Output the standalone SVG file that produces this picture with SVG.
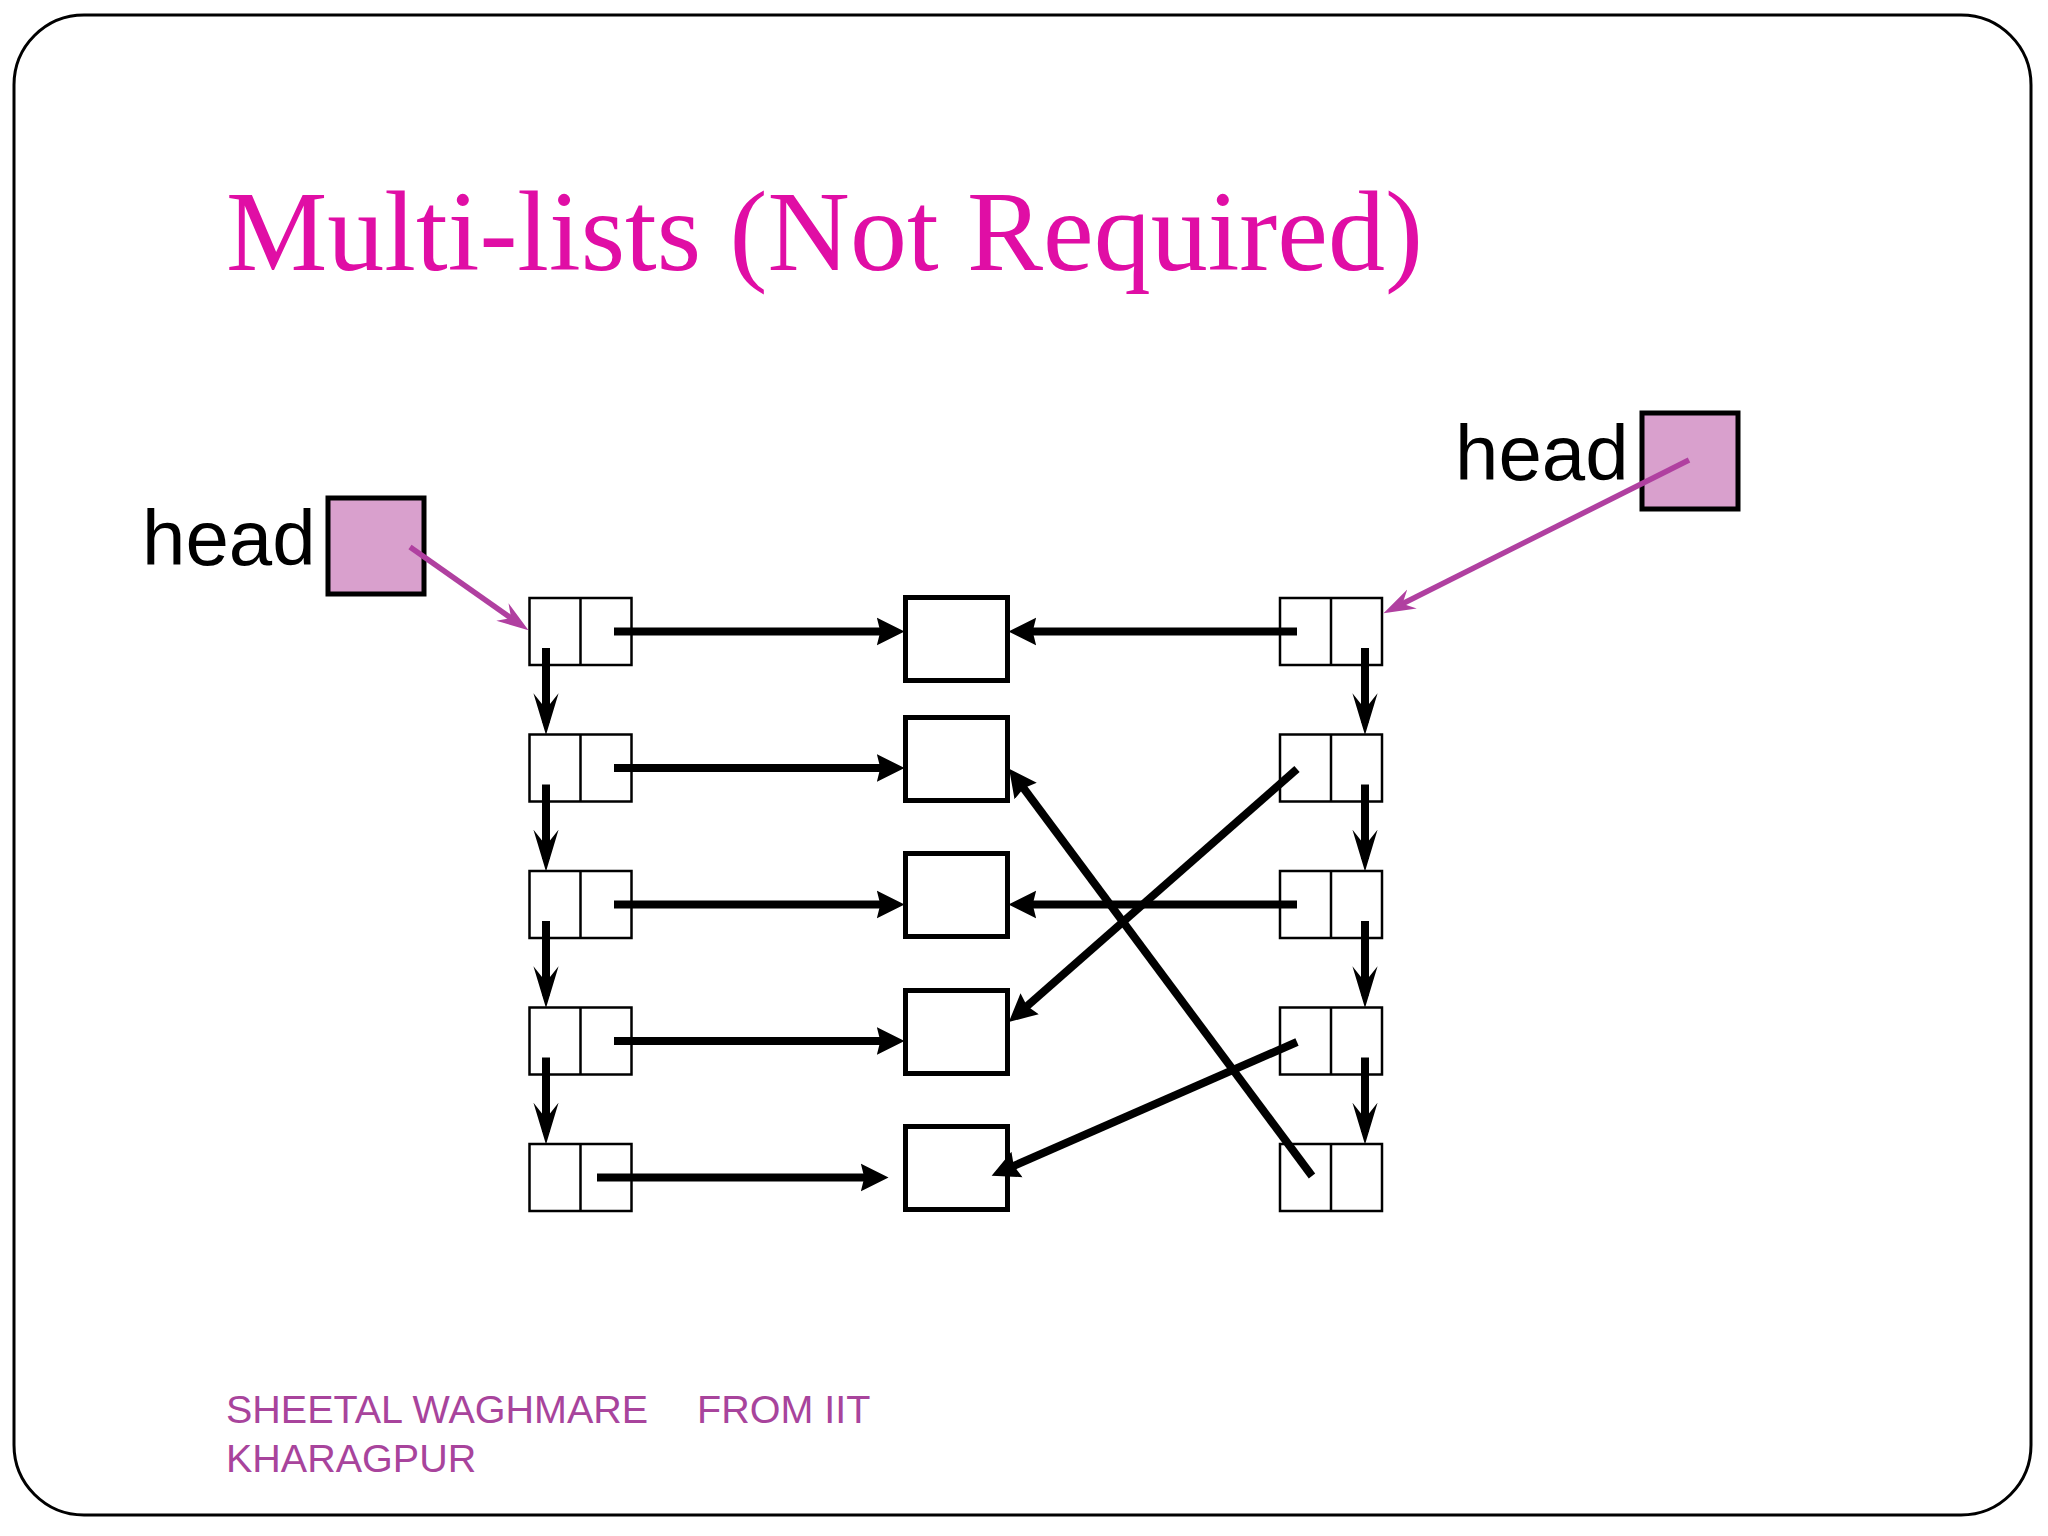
<svg xmlns="http://www.w3.org/2000/svg" width="2048" height="1536" viewBox="0 0 2048 1536">
<style>
.cell{fill:#fff;stroke:#000;stroke-width:2.5}
.item{fill:#fff;stroke:#000;stroke-width:5}
.headbox{fill:#D9A0CD;stroke:#000;stroke-width:5}
.lnk{stroke:#000;stroke-width:8;fill:none}
.hl{stroke:#B040A0;stroke-width:5.5;fill:none}
.lbl{font-family:"Liberation Sans",Arial,sans-serif;font-size:78px;fill:#000}
.foot{font-family:"Liberation Sans",Arial,sans-serif;font-size:39.5px;fill:#A8449C}
</style>
<defs>
<marker id="ah" markerUnits="userSpaceOnUse" markerWidth="30" markerHeight="30" viewBox="0 -13 26 26" refX="14" refY="0" orient="auto"><path d="M0,-12 L24,0 L0,12 L3,0 Z" fill="#000"/></marker>
<marker id="av" markerUnits="userSpaceOnUse" markerWidth="44" markerHeight="30" viewBox="0 -13 42 26" refX="28" refY="0" orient="auto"><path d="M0,-12 L40,0 L0,12 L15,0 Z" fill="#000"/></marker>
<marker id="ap" markerUnits="userSpaceOnUse" markerWidth="34" markerHeight="24" viewBox="0 -11 32 22" refX="20" refY="0" orient="auto"><path d="M0,-10 L30,0 L0,10 L10,0 Z" fill="#B040A0"/></marker>
</defs>
<rect x="0" y="0" width="2048" height="1536" fill="#fff"/>
<rect x="14" y="15" width="2017" height="1500" rx="70" ry="70" fill="#fff" stroke="#000" stroke-width="3"/>
<text x="226" y="270" font-family="'Liberation Serif','Times New Roman',serif" font-size="114" fill="#E00EA5">Multi-lists (Not Required)</text>
<text class="foot" x="226" y="1423">SHEETAL WAGHMARE</text>
<text class="foot" x="697" y="1423">FROM IIT</text>
<text class="foot" x="226" y="1472">KHARAGPUR</text>

<g id="head-left"><text class="lbl" x="142" y="565">head</text><rect class="headbox" x="328" y="498" width="96" height="96"/></g>
<g id="head-right"><text class="lbl" x="1455" y="480">head</text><rect class="headbox" x="1642" y="413" width="96" height="96"/></g>

<g id="L1"><rect class="cell" x="529.5" y="598" width="102" height="67"/><line class="cell" x1="580.5" y1="598" x2="580.5" y2="665"/></g>
<g id="L2"><rect class="cell" x="529.5" y="734.5" width="102" height="67"/><line class="cell" x1="580.5" y1="734.5" x2="580.5" y2="801.5"/></g>
<g id="L3"><rect class="cell" x="529.5" y="871" width="102" height="67"/><line class="cell" x1="580.5" y1="871" x2="580.5" y2="938"/></g>
<g id="L4"><rect class="cell" x="529.5" y="1007.5" width="102" height="67"/><line class="cell" x1="580.5" y1="1007.5" x2="580.5" y2="1074.5"/></g>
<g id="L5"><rect class="cell" x="529.5" y="1144" width="102" height="67"/><line class="cell" x1="580.5" y1="1144" x2="580.5" y2="1211"/></g>

<g id="R1"><rect class="cell" x="1280" y="598" width="102" height="67"/><line class="cell" x1="1331" y1="598" x2="1331" y2="665"/></g>
<g id="R2"><rect class="cell" x="1280" y="734.5" width="102" height="67"/><line class="cell" x1="1331" y1="734.5" x2="1331" y2="801.5"/></g>
<g id="R3"><rect class="cell" x="1280" y="871" width="102" height="67"/><line class="cell" x1="1331" y1="871" x2="1331" y2="938"/></g>
<g id="R4"><rect class="cell" x="1280" y="1007.5" width="102" height="67"/><line class="cell" x1="1331" y1="1007.5" x2="1331" y2="1074.5"/></g>
<g id="R5"><rect class="cell" x="1280" y="1144" width="102" height="67"/><line class="cell" x1="1331" y1="1144" x2="1331" y2="1211"/></g>

<g id="M1"><rect class="item" x="905.5" y="597.5" width="102" height="83"/></g>
<g id="M2"><rect class="item" x="905.5" y="717.5" width="102" height="83"/></g>
<g id="M3"><rect class="item" x="905.5" y="853.5" width="102" height="83"/></g>
<g id="M4"><rect class="item" x="905.5" y="990.5" width="102" height="83"/></g>
<g id="M5"><rect class="item" x="905.5" y="1126.5" width="102" height="83"/></g>

<g id="connectors">
<line class="lnk" x1="614" y1="631.5" x2="893" y2="631.5" marker-end="url(#ah)"/>
<line class="lnk" x1="614" y1="768" x2="893" y2="768" marker-end="url(#ah)"/>
<line class="lnk" x1="614" y1="904.5" x2="893" y2="904.5" marker-end="url(#ah)"/>
<line class="lnk" x1="614" y1="1041" x2="893" y2="1041" marker-end="url(#ah)"/>
<line class="lnk" x1="597" y1="1177.5" x2="877" y2="1177.5" marker-end="url(#ah)"/>

<line class="lnk" x1="546" y1="648" x2="546" y2="722.5" marker-end="url(#av)"/>
<line class="lnk" x1="546" y1="784.5" x2="546" y2="859" marker-end="url(#av)"/>
<line class="lnk" x1="546" y1="921" x2="546" y2="995.5" marker-end="url(#av)"/>
<line class="lnk" x1="546" y1="1057.5" x2="546" y2="1132" marker-end="url(#av)"/>

<line class="lnk" x1="1365" y1="648" x2="1365" y2="722.5" marker-end="url(#av)"/>
<line class="lnk" x1="1365" y1="784.5" x2="1365" y2="859" marker-end="url(#av)"/>
<line class="lnk" x1="1365" y1="921" x2="1365" y2="995.5" marker-end="url(#av)"/>
<line class="lnk" x1="1365" y1="1057.5" x2="1365" y2="1132" marker-end="url(#av)"/>

<line class="lnk" x1="1297" y1="631.5" x2="1020" y2="631.5" marker-end="url(#ah)"/>
<line class="lnk" x1="1297" y1="904.5" x2="1020" y2="904.5" marker-end="url(#ah)"/>

<line class="lnk" x1="1297" y1="769" x2="1017.5" y2="1014.4" marker-end="url(#ah)"/>
<line class="lnk" x1="1297" y1="1042" x2="1002.2" y2="1171" marker-end="url(#ah)"/>
<line class="lnk" x1="1312" y1="1176" x2="1016" y2="778" marker-end="url(#ah)"/>

<line class="hl" x1="410" y1="547" x2="519.8" y2="624.2" marker-end="url(#ap)"/>
<line class="hl" x1="1689" y1="460" x2="1393" y2="608.5" marker-end="url(#ap)"/>
</g>
</svg>
